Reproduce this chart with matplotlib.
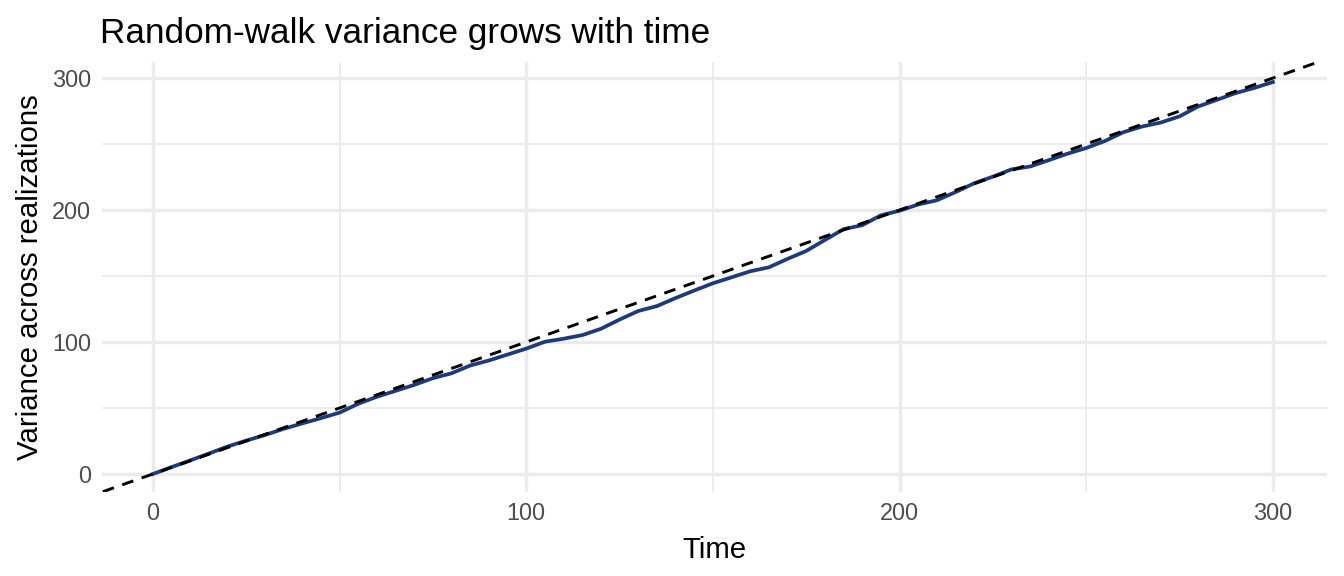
import matplotlib
matplotlib.use("Agg")
import matplotlib.pyplot as plt

plt.rcParams["font.family"] = ["Liberation Sans", "DejaVu Sans"]

# values (every 5 time steps)
time = list(range(0, 301, 5))
variance = [
    0.0, 5.2, 10.3, 15.5, 20.8, 25.3, 29.5, 34.2, 38.3, 42.3,
    46.5, 53.2, 58.5, 63.0, 67.5, 72.6, 76.3, 82.2, 86.0, 90.5,
    95.0, 100.2, 102.5, 105.2, 110.0, 117.0, 123.5, 127.2, 133.3, 139.0,
    144.5, 149.0, 153.6, 156.6, 163.0, 169.0, 177.3, 185.5, 188.5, 196.0,
    199.5, 204.2, 207.4, 213.6, 220.3, 225.3, 230.8, 233.0, 237.8, 242.7,
    247.0, 252.3, 259.0, 263.3, 266.3, 271.0, 278.5, 283.5, 288.6, 292.5,
    297.0,
]
major_ticks = [0, 100, 200, 300]
minor_ticks = [50, 150, 250]

fig = plt.figure(figsize=(7, 3), dpi=192)
ax = fig.add_axes([0.0757, 0.1464, 0.9117, 0.7456])

# grid (theme_minimal look)
for v in minor_ticks:
    ax.axvline(v, color="#EBEBEB", lw=0.7, zorder=0)
    ax.axhline(v, color="#EBEBEB", lw=0.7, zorder=0)
for v in major_ticks:
    ax.axvline(v, color="#EBEBEB", lw=1.3, zorder=0)
    ax.axhline(v, color="#EBEBEB", lw=1.3, zorder=0)

ax.plot(time, variance, color="#1F3A78", lw=1.4, zorder=2)
# theoretical variance: y = t
ax.axline((0, 0), slope=1, color="black", lw=1.1, ls=(0, (4, 3)), zorder=3)

ax.set_xlim(-13.7, 314.5)
ax.set_ylim(-13.4, 312.0)
ax.set_xticks(major_ticks)
ax.set_yticks(major_ticks)
ax.tick_params(length=0, labelsize=8.8, labelcolor="#4D4D4D", pad=4)
for s in ax.spines.values():
    s.set_visible(False)

ax.set_xlabel("Time", fontsize=11, labelpad=4)
ax.set_ylabel("Variance across realizations", fontsize=11, labelpad=3)
fig.text(0.0745, 0.925, "Random-walk variance grows with time", fontsize=13.2,
         ha="left", va="baseline")

fig.savefig("out.png", dpi=192)
